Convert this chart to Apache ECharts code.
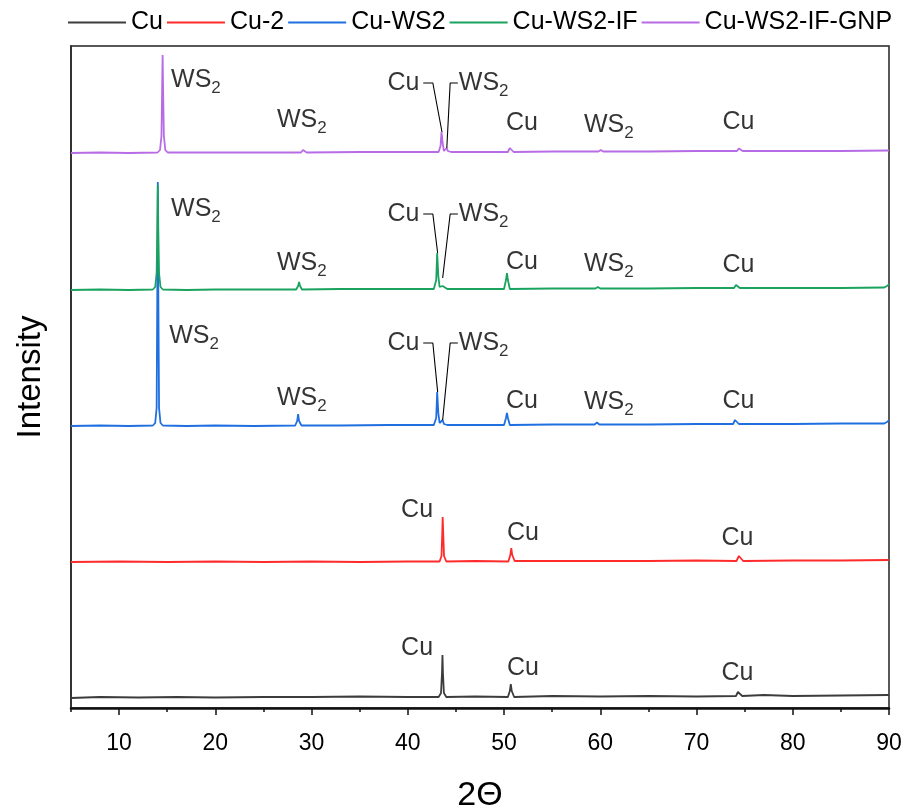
<!DOCTYPE html>
<html>
<head>
<meta charset="utf-8">
<script src="https://cdn.jsdelivr.net/npm/echarts@6/dist/echarts.min.js"></script>
<style>
  html, body { margin: 0; padding: 0; background: #fff; }
  #chart { width: 908px; height: 809px; }
</style>
</head>
<body>
<div id="chart"></div>
<script>
// ---------- data (2θ, stacked intensity offset units) ----------
var seriesNames = ['Cu', 'Cu-2', 'Cu-WS2', 'Cu-WS2-IF', 'Cu-WS2-IF-GNP'];
var seriesColors = ['#3c3c3c', '#ff2b2b', '#1f6fe0', '#19a35e', '#b76ce6'];

var cuData = [[5,10],[8,11],[12,10.5],[16,11],[20,10.5],[25,11],[30,11],[35,11.5],[40,11],[43.2,11],[43.45,15],[43.55,35],[43.6,53],[43.65,35],[43.75,15],[44,11],[47,11.5],[50.4,11],[50.6,17],[50.7,24],[50.8,17],[51.05,11],[55,12],[60,11.5],[65,12],[70,11.5],[74.1,12],[74.3,16],[74.4,18],[74.5,16],[74.75,12],[77,13],[80,12],[85,12.5],[90,13]];

var cu2Data = [[5,146],[10,146.5],[15,146],[20,146.5],[25,146],[30,146.5],[35,146],[40,146.5],[43.3,146.5],[43.5,152],[43.58,175],[43.62,191],[43.68,175],[43.76,152],[44,146.5],[47,147],[50.45,146.5],[50.65,153],[50.75,160],[50.85,153],[51.1,147],[55,147],[60,147],[65,147],[70,147.5],[74.15,147],[74.4,152],[74.5,154],[74.6,152],[74.85,147],[80,147.5],[85,147.5],[90,148]];

var ws2Data = [[5,282],[8,282.5],[11,282],[13.5,282.5],[13.75,285],[13.9,300],[13.97,420],[14.02,526],[14.07,420],[14.15,300],[14.3,285],[14.55,282.5],[17,282],[20,282.5],[24,282],[28.3,282.5],[28.5,287],[28.6,294],[28.7,287],[28.95,282.5],[33,282.5],[38,283],[42.7,283],[42.95,290],[43.05,316],[43.1,316],[43.17,295],[43.3,285],[43.5,285],[43.62,288],[43.75,284],[44.1,283],[47,283],[50.0,283],[50.2,290],[50.3,295],[50.4,290],[50.6,283],[55,283.5],[59.4,283.5],[59.65,285.5],[59.9,283.5],[65,283.5],[70,284],[73.8,284],[74.0,288],[74.1,290],[74.2,288],[74.4,284],[80,284],[85,284.5],[89.5,284.5],[89.8,286],[90,288]];

var ws2ifData = [[5,418],[8,418.5],[11,418],[13.5,418.5],[13.75,421],[13.9,435],[13.97,480],[14.02,523],[14.07,480],[14.15,435],[14.3,421],[14.55,418.5],[17,418],[20,418.5],[24,418.5],[28.4,418.5],[28.6,422],[28.7,426],[28.8,422],[29.0,418.5],[33,419],[38,419],[42.7,419],[42.95,428],[43.05,455],[43.1,455],[43.17,432],[43.3,421],[43.5,421],[43.62,422],[43.75,420],[44.1,419],[47,419],[50.0,419],[50.2,428],[50.3,435],[50.4,428],[50.6,419],[55,419.5],[59.5,419.5],[59.75,421],[60,419.5],[65,419.5],[70,420],[73.9,420],[74.1,423],[74.2,425],[74.3,423],[74.5,420],[80,420],[85,420],[89.5,420.5],[89.8,422],[90,424]];

var gnpData = [[5,555],[8,555.5],[11,555],[14.0,555.5],[14.25,558],[14.4,572],[14.47,620],[14.52,653],[14.57,620],[14.65,572],[14.8,558],[15.05,555.5],[20,555.5],[25,555.5],[28.9,555.5],[29.1,558],[29.2,560],[29.3,558],[29.5,555.5],[35,556],[40,556],[43.2,556],[43.4,562],[43.5,576],[43.55,576],[43.62,565],[43.75,557],[43.95,557],[44.05,560],[44.15,557],[44.5,556],[48,556],[50.4,556],[50.6,560],[50.7,562],[50.8,560],[51.0,556],[55,556.5],[59.8,556.5],[60.05,558],[60.3,556.5],[65,556.5],[70,557],[74.2,557],[74.4,559.5],[74.5,560],[74.6,559.5],[74.8,557],[80,557],[85,557],[90,557.5]];

var xMajorTicks = [10, 20, 30, 40, 50, 60, 70, 80, 90];
var xMinorTicks = [5, 15, 25, 35, 45, 55, 65, 75, 85];

// annotation labels: [2θ, level, text, align]
var annotations = [
  [15.4, 628, 'WS2', 'left'], [26.4, 588, 'WS2', 'left'], [41.2, 625, 'Cu', 'right'], [45.3, 625, 'WS2', 'left'],
  [50.2, 585, 'Cu', 'left'], [58.3, 583, 'WS2', 'left'], [72.7, 586, 'Cu', 'left'],
  [15.4, 499, 'WS2', 'left'], [26.4, 445, 'WS2', 'left'], [41.2, 494, 'Cu', 'right'], [45.3, 494, 'WS2', 'left'],
  [50.2, 446, 'Cu', 'left'], [58.3, 444, 'WS2', 'left'], [72.7, 443, 'Cu', 'left'],
  [15.2, 372, 'WS2', 'left'], [26.4, 310, 'WS2', 'left'], [41.2, 365, 'Cu', 'right'], [45.3, 365, 'WS2', 'left'],
  [50.2, 307, 'Cu', 'left'], [58.3, 306, 'WS2', 'left'], [72.7, 307, 'Cu', 'left'],
  [39.3, 198, 'Cu', 'left'], [50.3, 175, 'Cu', 'left'], [72.6, 170, 'Cu', 'left'],
  [39.3, 60, 'Cu', 'left'], [50.3, 40, 'Cu', 'left'], [72.6, 35, 'Cu', 'left']
];

// leader lines
var leaders = [
  [[41.6, 625], [42.6, 625], [43.55, 576]],
  [[45.2, 625], [44.4, 625], [44.05, 560]],
  [[41.6, 494], [42.6, 494], [43.1, 455]],
  [[45.2, 494], [44.4, 494], [43.62, 430]],
  [[41.6, 365], [42.6, 365], [43.1, 316]],
  [[45.2, 365], [44.4, 365], [43.62, 288]]
];

var FONT = "'Liberation Sans', Arial, sans-serif";

var chart = echarts.init(document.getElementById('chart'), null, { renderer: 'canvas' });

var allData = [cuData, cu2Data, ws2Data, ws2ifData, gnpData];
var series = [];
seriesNames.forEach(function (n, i) {
  series.push({
    name: n, type: 'line', data: allData[i],
    showSymbol: false, symbol: 'none', smooth: false,
    lineStyle: { color: seriesColors[i], width: 1.8 },
    itemStyle: { color: seriesColors[i] },
    silent: true, z: 2 + i
  });
});

leaders.forEach(function (pts) {
  series.push({
    type: 'line', data: pts, symbol: 'none', silent: true,
    lineStyle: { color: '#000', width: 1.1 }, z: 10
  });
});

series.push({
  type: 'scatter', symbolSize: 0, silent: true, z: 11,
  data: annotations.map(function (a) {
    return { value: [a[0], a[1]], label: { align: a[3] } };
  }),
  label: {
    show: true, position: 'inside', verticalAlign: 'middle',
    color: '#000', fontFamily: FONT, fontSize: 25,
    formatter: function (p) {
      var t = annotations[p.dataIndex][2];
      if (t === 'WS2') return '{m|WS}{s|2}';
      return '{m|' + t + '}';
    },
    rich: {
      m: { fontSize: 25, fontFamily: FONT, color: '#000', lineHeight: 34, verticalAlign: 'middle' },
      s: { fontSize: 17, fontFamily: FONT, color: '#000', lineHeight: 16, verticalAlign: 'bottom' }
    }
  }
});

chart.setOption({
  animation: false,
  backgroundColor: '#fff',
  legend: {
    data: seriesNames, left: 63, top: 5, itemWidth: 58, itemHeight: 14, itemGap: 4,
    textStyle: { fontFamily: FONT, fontSize: 25, color: '#000' },
    icon: 'path://M0,6 L58,6 L58,8 L0,8 Z'
  },
  grid: { left: 71, right: 19, top: 46, bottom: 101, show: true, borderColor: '#222', borderWidth: 1.5, outerBoundsMode: 'none', containLabel: false },
  xAxis: [{
    type: 'value', min: 5, max: 90,
    name: '2\u0398', nameLocation: 'middle', nameGap: 71,
    nameTextStyle: { fontFamily: FONT, fontSize: 34, color: '#000' },
    axisLine: { show: true, onZero: false, lineStyle: { color: '#111', width: 2.5 } },
    axisTick: { show: true, customValues: xMajorTicks, length: 7, lineStyle: { color: '#111', width: 1.5 } },
    axisLabel: { show: true, customValues: xMajorTicks, margin: 24, fontFamily: FONT, fontSize: 23, color: '#000' },
    splitLine: { show: false }
  }, {
    type: 'value', min: 5, max: 90, position: 'bottom',
    axisLine: { show: false },
    axisTick: { show: true, customValues: xMinorTicks, length: 4, lineStyle: { color: '#111', width: 1.5 } },
    axisLabel: { show: false },
    splitLine: { show: false }
  }],
  yAxis: {
    type: 'value', min: 0, max: 662,
    name: 'Intensity', nameLocation: 'middle', nameGap: 24, nameRotate: 90,
    nameTextStyle: { fontFamily: FONT, fontSize: 33, color: '#000' },
    axisLine: { show: true, lineStyle: { color: '#333', width: 2 } },
    axisTick: { show: false }, axisLabel: { show: false }, splitLine: { show: false }
  },
  series: series
});
</script>
</body>
</html>
